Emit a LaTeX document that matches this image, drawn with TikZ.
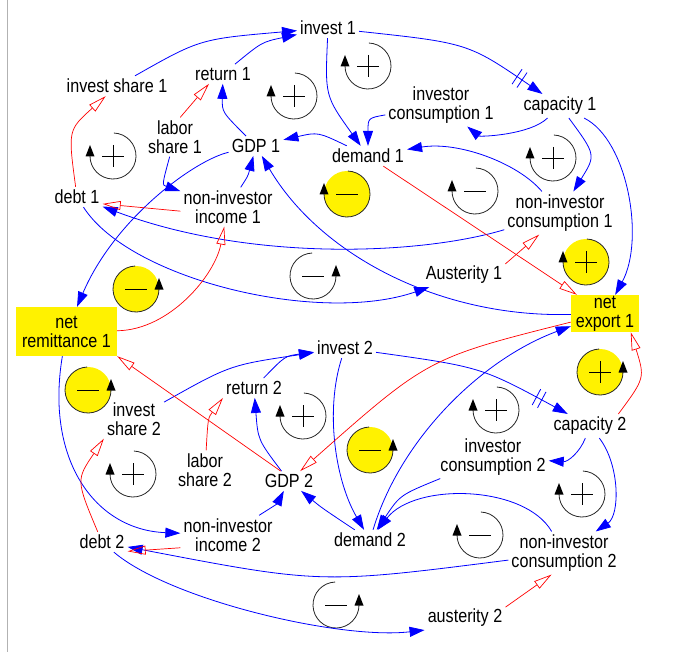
\documentclass[tikz,border=0pt]{standalone}
\usepackage{fontspec}
\setmainfont{Liberation Sans}[FakeStretch=0.85]
\usetikzlibrary{arrows.meta,decorations.markings}
\newcommand{\cldL}[3]{\path[fill=#3] (#1,#2) circle[radius=23];
 \draw[loopline] ([shift={(-88:23)}]#1,#2) arc[start angle=-88,end angle=180,radius=23];
 \fill[black] (#1-27.5,#2+0.5) -- (#1-18.5,#2+0.5) -- (#1-23,#2-11) -- cycle;}
\newcommand{\cldR}[3]{\path[fill=#3] (#1,#2) circle[radius=23];
 \draw[loopline] ([shift={(-92:23)}]#1,#2) arc[start angle=-92,end angle=-360,radius=23];
 \fill[black] (#1+18.5,#2+0.5) -- (#1+27.5,#2+0.5) -- (#1+23,#2-11) -- cycle;}
\newcommand{\cldplus}[2]{\draw[signline] (#1-11,#2) -- (#1+11,#2) (#1,#2-11) -- (#1,#2+11);}
\newcommand{\cldminus}[2]{\draw[signline] (#1-11,#2) -- (#1+11,#2);}
\begin{document}
\begin{tikzpicture}[x=1pt,y=-1pt,
 vname/.style={font=\fontsize{19}{19}\selectfont, align=center, inner sep=3pt, text=black},
 vbox/.style={vname, fill=yellow, inner sep=0pt},
 plink/.style={draw=blue, line width=0.8pt, -{Triangle[length=15pt,width=10pt]}},
 nlink/.style={draw=red, line width=0.7pt, -{Triangle[open,length=18pt,width=9pt]}},
 dly/.style={postaction={decorate,decoration={markings,mark=at position #1 with {\draw[-,blue,line width=0.8pt] (-3,-9) -- (-3,9) (3,-9) -- (3,9);}}}},
 loopline/.style={draw=black!85, line width=0.8pt},
 signline/.style={draw=black, line width=0.9pt}]
\useasboundingbox (0,0) rectangle (677,652);
\draw[gray!60, line width=1pt] (7,0) -- (7,652);

% loops
\cldL{294}{96}{none}\cldplus{294}{96}
\cldL{368}{66}{none}\cldplus{368}{66}
\cldL{113}{156}{none}\cldplus{113}{156}
\cldL{347}{194}{yellow}\cldminus{347}{194}
\cldL{553}{158}{none}\cldplus{553}{158}
\cldL{475}{191}{none}\cldminus{475}{191}
\cldL{586}{262}{yellow}\cldplus{586}{262}
\cldR{313}{276}{none}\cldminus{313}{276}
\cldR{136}{289}{yellow}\cldminus{136}{289}
\cldR{600}{372}{yellow}\cldplus{600}{372}
\cldR{88}{390}{yellow}\cldminus{88}{390}
\cldL{303}{416}{none}\cldplus{303}{416}
\cldL{133}{474}{none}\cldplus{133}{474}
\cldR{370}{450}{yellow}\cldminus{370}{450}
\cldL{496}{410}{none}\cldplus{496}{410}
\cldL{582}{494}{none}\cldplus{582}{494}
\cldL{480}{535}{none}\cldminus{480}{535}
\cldR{336}{605}{none}\cldminus{336}{605}

% variables, country 1
\node[vname] (inv1) at (328,28) {invest 1};
\node[vname] (ret1) at (223,74) {return 1};
\node[vname] (ish1) at (117,86) {invest share 1};
\node[vname] (lab1) at (175,137) {labor\\share 1};
\node[vname] (gdp1) at (256,146) {GDP 1};
\node[vname] (dem1) at (368,156) {demand 1};
\node[vname] (icon1) at (441,105) {investor\\consumption 1};
\node[vname] (cap1) at (560,106) {capacity 1};
\node[vname] (ncon1) at (560,213) {non-investor\\consumption 1};
\node[vname] (debt1) at (77,197) {debt 1};
\node[vname] (ninc1) at (228,207) {non-investor\\income 1};
\node[vname] (aus1) at (464,275) {Austerity 1};
\node[vbox, minimum width=68pt, minimum height=37pt] (nex1) at (605,313.5) {net\\export 1};
\node[vbox, minimum width=101pt, minimum height=49pt] (nrem1) at (66.5,331.5) {net\\remittance 1};
% variables, country 2
\node[vname] (inv2) at (345,348) {invest 2};
\node[vname] (ret2) at (254,388) {return 2};
\node[vname] (ish2) at (134,419) {invest\\share 2};
\node[vname] (lab2) at (205,470) {labor\\share 2};
\node[vname] (gdp2) at (289,481) {GDP 2};
\node[vname] (dem2) at (370,540) {demand 2};
\node[vname] (icon2) at (493,457) {investor\\consumption 2};
\node[vname] (cap2) at (590,426) {capacity 2};
\node[vname] (ncon2) at (564,553) {non-investor\\consumption 2};
\node[vname] (debt2) at (102,542) {debt 2};
\node[vname] (ninc2) at (228,535) {non-investor\\income 2};
\node[vname] (aus2) at (465,618) {austerity 2};

% positive links, country 1
\draw[plink] (ish1) .. controls (200,39) .. (inv1);
\draw[plink] (ret1) .. controls (262,42) .. (inv1);
\draw[plink] (gdp1) .. controls (222,112) .. (ret1);
\draw[plink] (inv1) .. controls (325,96) .. (dem1);
\draw[plink] (icon1) .. controls (368,118) .. (dem1);
\draw[plink] (dem1) .. controls (318,132) .. (gdp1);
\draw[plink, dly=0.86] (inv1) .. controls (468,43) .. (cap1);
\draw[plink] (cap1) .. controls (530,135) and (480,137) .. (icon1);
\draw[plink] (ncon1) .. controls (518,163) and (458,141) .. (dem1);
\draw[plink] (cap1) .. controls (596,155) .. (ncon1);
\draw[plink] (cap1) .. controls (628,140) and (645,240) .. (nex1);
\draw[plink] (lab1) .. controls (162,185) .. (ninc1);
\draw[plink] (gdp1) .. controls (195,160) and (115,218) .. (nrem1);
\draw[plink] (ninc1) .. controls (248,176) .. (gdp1);
\draw[plink] (nex1) .. controls (440,318) and (320,255) .. (gdp1);
\draw[plink] (ncon1) .. controls (420,255) and (250,262) .. (debt1);
\draw[plink] (debt1) .. controls (130,280) and (320,325) .. (aus1);
\draw[plink] (nrem1) .. controls (45,460) and (95,530) .. (ninc2);
% positive links, country 2
\draw[plink] (ish2) .. controls (230,365) .. (inv2);
\draw[plink] (ret2) .. controls (285,356) .. (inv2);
\draw[plink] (gdp2) .. controls (258,440) .. (ret2);
\draw[plink] (inv2) .. controls (325,410) and (335,480) .. (dem2);
\draw[plink] (dem2) .. controls (322,508) .. (gdp2);
\draw[plink] (ninc2) .. controls (277,504) .. (gdp2);
\draw[plink, dly=0.84] (inv2) .. controls (481,367) .. (cap2);
\draw[plink] (cap2) .. controls (580,452) and (568,462) .. (icon2);
\draw[plink] (cap2) .. controls (620,465) and (620,515) .. (ncon2);
\draw[plink] (icon2) .. controls (400,495) .. (dem2);
\draw[plink] (ncon2) .. controls (525,485) and (415,482) .. (dem2);
\draw[plink] (dem2) .. controls (400,440) and (480,360) .. (nex1);
\draw[plink] (ncon2) .. controls (321,584) .. (debt2);
\draw[plink] (debt2) .. controls (170,600) and (340,640) .. (aus2.south west);

% negative links
\draw[nlink] (lab1.75) -- (ret1.215);
\draw[nlink] (debt1) .. controls (68,130) .. (ish1);
\draw[nlink] (ninc1.185) -- (debt1.-15);
\draw[nlink] (nrem1) .. controls (170,330) and (215,275) .. (ninc1);
\draw[nlink] (dem1) -- (nex1);
\draw[nlink] (aus1.15) -- (ncon1.226);
\draw[nlink] (gdp2.130) -- (nrem1.south east);
\draw[nlink] (nex1) .. controls (428,358) .. (gdp2);
\draw[nlink] (cap2.23) .. controls (645,378) .. (nex1.-36);
\draw[nlink] (debt2) .. controls (76,480) .. (ish2.south west);
\draw[nlink] (lab2) .. controls (208,418) .. (ret2.south west);
\draw[nlink] (ninc2.195) -- (debt2.-20);
\draw[nlink] (aus2.15) -- (ncon2.240);
\end{tikzpicture}
\end{document}
